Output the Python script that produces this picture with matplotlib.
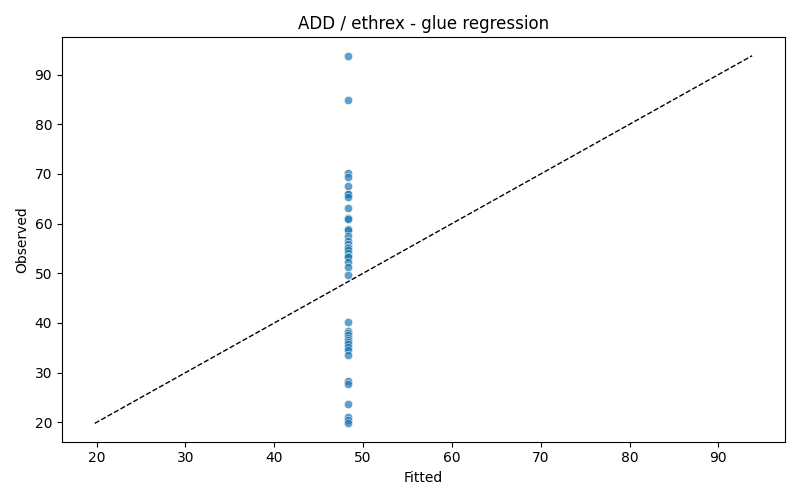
import numpy as np
import matplotlib
matplotlib.use("Agg")
import matplotlib.pyplot as plt
import seaborn as sns

observed = [93.8, 84.9, 70.2, 69.4, 67.6, 66.0, 65.9, 65.3, 63.1, 61.1, 61.0,
            58.9, 58.8, 57.5, 56.6, 56.0, 55.3, 55.0, 54.6, 54.0, 53.5, 53.2,
            52.3, 51.2, 49.6, 40.2, 38.4, 37.9, 37.5, 37.0, 36.6, 36.2, 35.8,
            35.2, 34.6, 33.5, 28.3, 27.8, 23.6, 21.1, 20.5, 19.8]
fitted_value = 48.35
fitted = [fitted_value] * len(observed)

fig, ax = plt.subplots(figsize=(8, 5), dpi=100)
sns.scatterplot(x=fitted, y=observed, alpha=0.7, ax=ax)
lo = min(min(observed), min(fitted))
hi = max(max(observed), max(fitted))
ax.plot([lo, hi], [lo, hi], 'k--', lw=1)
ax.set_xlabel("Fitted")
ax.set_ylabel("Observed")
ax.set_title("ADD / ethrex - glue regression")
plt.tight_layout()
plt.savefig("out.png")
